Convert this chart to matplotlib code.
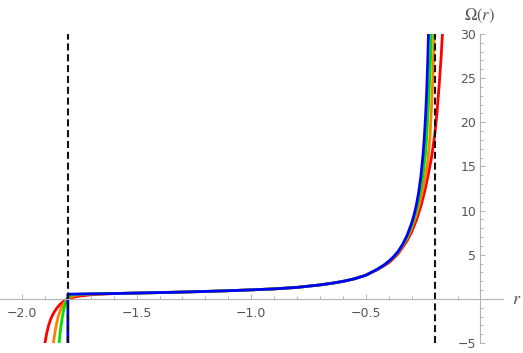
import numpy as np
import matplotlib.pyplot as plt
from matplotlib.ticker import MultipleLocator, FixedLocator

plt.rcParams['mathtext.fontset'] = 'stix'

# shared middle part (all four curves coincide here)
mid_r = [-1.60, -1.50, -1.40, -1.30, -1.20, -1.10, -1.00, -0.90, -0.80,
         -0.70, -0.65, -0.60, -0.55, -0.50]
mid_om = [0.60, 0.66, 0.71, 0.77, 0.84, 0.92, 1.02, 1.13, 1.30,
          1.58, 1.76, 1.98, 2.27, 2.68]

# left branches
blue_left_r = [-1.80, -1.80, -1.75, -1.70, -1.65]
blue_left_om = [-6.0, 0.53, 0.55, 0.57, 0.58]
green_left_r = [-1.841, -1.838, -1.834, -1.829, -1.823, -1.816, -1.810, -1.805, -1.800,
                -1.795, -1.788, -1.775, -1.750, -1.700, -1.650]
green_left_om = [-6.0, -5.0, -3.9, -2.9, -1.9, -1.0, -0.5, -0.15, 0.10,
                 0.28, 0.40, 0.48, 0.53, 0.56, 0.58]
orange_left_r = [-1.867, -1.863, -1.857, -1.850, -1.842, -1.832, -1.822, -1.812, -1.800,
                 -1.790, -1.775, -1.755, -1.730, -1.700, -1.650]
orange_left_om = [-6.0, -5.0, -3.9, -2.9, -2.0, -1.25, -0.70, -0.30, 0.03,
                  0.20, 0.33, 0.43, 0.49, 0.53, 0.57]
red_left_r = [-1.906, -1.900, -1.893, -1.885, -1.875, -1.862, -1.848, -1.835, -1.820,
              -1.805, -1.790, -1.770, -1.750, -1.720, -1.700, -1.650]
red_left_om = [-6.0, -5.0, -4.0, -3.1, -2.3, -1.6, -1.05, -0.65, -0.30,
               -0.05, 0.10, 0.22, 0.31, 0.40, 0.46, 0.54]

# right branches (towards the divergence)
blue_right_r = [-0.45, -0.42, -0.40, -0.38, -0.36, -0.34, -0.32, -0.30, -0.29, -0.28,
                -0.27, -0.26, -0.25, -0.245, -0.24, -0.235, -0.23, -0.227, -0.225]
blue_right_om = [3.35, 3.85, 4.25, 4.75, 5.35, 6.15, 7.2, 8.6, 9.5, 10.6,
                 12.0, 13.9, 16.5, 18.3, 20.5, 23.3, 27.0, 30.0, 32.0]
green_right_r = [-0.45, -0.42, -0.40, -0.38, -0.36, -0.34, -0.32, -0.30, -0.28, -0.27,
                 -0.26, -0.25, -0.24, -0.235, -0.23, -0.225, -0.22, -0.216, -0.213, -0.211]
green_right_om = [3.35, 3.85, 4.25, 4.72, 5.3, 6.05, 7.0, 8.3, 10.0, 11.1,
                  12.5, 14.2, 16.5, 18.2, 20.5, 23.0, 25.8, 28.5, 31.0, 32.5]
orange_right_r = [-0.45, -0.42, -0.40, -0.38, -0.36, -0.34, -0.32, -0.30, -0.28, -0.265,
                  -0.25, -0.24, -0.23, -0.22, -0.214, -0.208, -0.204, -0.201, -0.199]
orange_right_om = [3.33, 3.82, 4.2, 4.68, 5.25, 5.95, 6.85, 8.0, 9.5, 10.9,
                   12.6, 13.9, 15.6, 18.5, 21.5, 25.0, 28.0, 30.5, 32.5]
red_right_r = [-0.45, -0.42, -0.40, -0.38, -0.36, -0.34, -0.32, -0.30, -0.28, -0.26,
               -0.245, -0.23, -0.215, -0.20, -0.19, -0.18, -0.172, -0.165, -0.162]
red_right_om = [3.3, 3.75, 4.1, 4.55, 5.1, 5.8, 6.6, 7.6, 8.9, 10.5,
                12.0, 13.8, 15.8, 18.5, 21.0, 24.3, 27.3, 30.5, 32.0]

poles = [-1.8, -0.2]

fig = plt.figure(figsize=(5.23, 3.53), dpi=100)
ax = fig.add_axes([0.0, 1 - 343 / 353, 502.5 / 523, 309 / 353])

curves = [
    (red_left_r, red_left_om, red_right_r, red_right_om, '#ff0000'),
    (orange_left_r, orange_left_om, orange_right_r, orange_right_om, '#ff8000'),
    (green_left_r, green_left_om, green_right_r, green_right_om, '#00e000'),
    (blue_left_r, blue_left_om, blue_right_r, blue_right_om, '#0000ff'),
]
for lr, lo, rr, ro, c in curves:
    r = list(lr) + mid_r + list(rr)
    om = list(lo) + mid_om + list(ro)
    ax.plot(r, om, color=c, lw=2.0, solid_joinstyle='round')

for p in poles:
    ax.axvline(p, color='#141414', lw=1.5, dashes=(3.4, 1.8))

ax.set_xlim(-2.096, 0.096)
ax.set_ylim(-5, 30)

ax.spines['left'].set_position(('data', 0))
ax.spines['bottom'].set_position(('data', 0))
ax.spines['right'].set_visible(False)
ax.spines['top'].set_visible(False)
for s in ('left', 'bottom'):
    ax.spines[s].set_color('#b3b3b3')
    ax.spines[s].set_linewidth(0.8)

ax.xaxis.set_major_locator(FixedLocator([-2.0, -1.5, -1.0, -0.5]))
ax.xaxis.set_minor_locator(MultipleLocator(0.1))
ax.yaxis.set_major_locator(FixedLocator([-5, 5, 10, 15, 20, 25, 30]))
ax.yaxis.set_minor_locator(MultipleLocator(1))
ax.set_xticklabels(['\u22122.0', '\u22121.5', '\u22121.0', '\u22120.5'])
ax.set_yticklabels(['\u22125', '5', '10', '15', '20', '25', '30'])
ax.tick_params(which='both', direction='in', color='#b3b3b3', width=0.7,
               labelcolor='#555555', labelsize=9)
ax.tick_params(which='major', length=3.8)
ax.tick_params(which='minor', length=2.3)
ax.tick_params(axis='x', which='both', pad=6)
ax.tick_params(axis='y', which='both', pad=3)

ax.text(1.018, 0.142, '$r$', transform=ax.transAxes, fontsize=13,
        color='#555555', ha='left', va='center', clip_on=False)
ax.text(0.955, 1.06, r'$\Omega(r)$', transform=ax.transAxes, fontsize=12,
        color='#555555', ha='center', va='center', clip_on=False)

fig.savefig('out.png', dpi=100)
